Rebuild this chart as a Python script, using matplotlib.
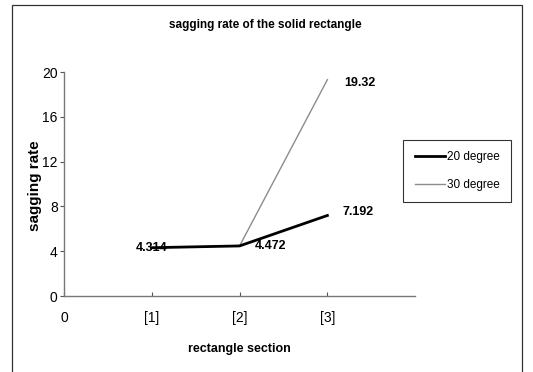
import matplotlib.pyplot as plt
from matplotlib.patches import Rectangle

# data
sections = [1, 2, 3]
tick_pos = [0, 1, 2, 3]
tick_labels = ['0', '[1]', '[2]', '[3]']
deg20 = [4.314, 4.472, 7.192]
deg30 = [4.314, 4.472, 19.32]

plt.rcParams['font.family'] = ['Liberation Sans', 'DejaVu Sans']

fig = plt.figure(figsize=(5.33, 3.72), dpi=100)
ax = fig.add_axes([0.120, 0.2043, 0.659, 0.602])

# outer chart border
fig.patches.append(Rectangle((12/533, -0.05), 510/533, 1 - 5/372 + 0.05,
                             transform=fig.transFigure, fill=False,
                             edgecolor='#333333', linewidth=0.9))

ax.plot(sections, deg30, color='#8c8c8c', linewidth=1.0, label='30 degree')
ax.plot(sections, deg20, color='black', linewidth=2.0, label='20 degree')

# data labels
ax.text(1, deg20[0], '4.314', ha='center', va='center', fontsize=9, fontweight='bold')
ax.text(2.17, deg20[1], '4.472', ha='left', va='center', fontsize=9, fontweight='bold')
ax.text(3.17, deg20[2] + 0.3, '7.192', ha='left', va='center', fontsize=9, fontweight='bold')
ax.text(3.19, deg30[2] - 0.3, '19.32', ha='left', va='center', fontsize=9, fontweight='bold')

ax.set_xlim(0, 4)
ax.set_ylim(0, 20)
ax.set_yticks([0, 4, 8, 12, 16, 20])
ax.set_xticks(tick_pos)
ax.set_xticklabels(tick_labels)
ax.tick_params(axis='x', direction='in', length=3, pad=11, labelsize=10, color='#555555')
ax.tick_params(axis='y', direction='out', length=3, pad=1.5, labelsize=10, color='#555555')
for s in ['top', 'right']:
    ax.spines[s].set_visible(False)
for s in ['left', 'bottom']:
    ax.spines[s].set_color('#777777')
    ax.spines[s].set_linewidth(1.0)

ax.set_xlabel('rectangle section', fontsize=9, fontweight='bold', labelpad=13)
ax.set_ylabel('sagging rate', fontsize=11, fontweight='bold')
ax.yaxis.set_label_coords(-0.062, 0.494)
fig.text(0.497, 1 - 25/372, 'sagging rate of the solid rectangle', ha='center',
         va='center', fontsize=8.5, fontweight='bold')

handles, labels = ax.get_legend_handles_labels()
leg = ax.legend(handles[::-1], labels[::-1], loc='center', bbox_to_anchor=(457/533, 1 - 171/372),
                bbox_transform=fig.transFigure, frameon=True, fancybox=False,
                fontsize=8.5, handlelength=2.6, handletextpad=0.1, labelspacing=1.3,
                borderpad=1.0, borderaxespad=0)
leg.get_frame().set_edgecolor('black')
leg.get_frame().set_linewidth(0.8)

fig.savefig('out.png', dpi=100)
